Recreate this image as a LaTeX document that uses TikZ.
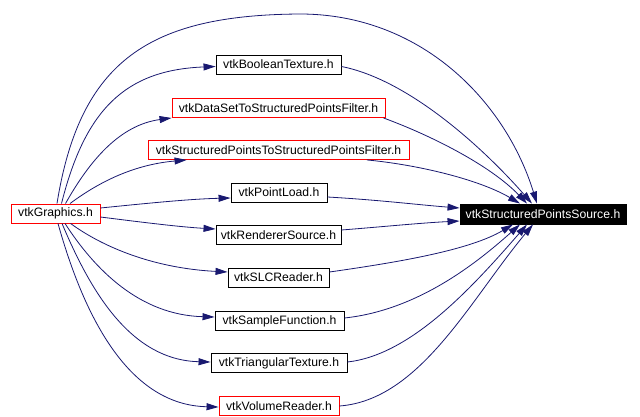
\documentclass[tikz,border=0pt]{standalone}
\usepackage{fontspec}
\setmainfont{Liberation Sans}
\usetikzlibrary{arrows.meta}
\definecolor{edgeblue}{HTML}{191970}
\tikzset{
  box/.style={draw=black, line width=0.9pt, fill=white, minimum height=19pt, inner sep=0pt, font=\fontsize{12.2}{13}\selectfont},
  redbox/.style={box, draw=red},
  srcbox/.style={box, fill=black, text=white, minimum height=20pt},
  dep/.style={draw=edgeblue, line width=0.8pt, -{Triangle[length=12pt,width=7pt]}},
}
\begin{document}
\begin{tikzpicture}[x=1pt,y=-1pt]
\useasboundingbox (0,0) rectangle (640,417);
\node[srcbox, minimum width=166pt] (src) at (543,214) {vtkStructuredPointsSource.h};
\node[redbox, minimum width=89pt] (g) at (55.5,213.5) {vtkGraphics.h};
\node[box, minimum width=125pt] (n1) at (278.5,64.5) {vtkBooleanTexture.h};
\node[redbox, minimum width=213pt] (n2) at (278.5,108) {vtkDataSetToStructuredPointsFilter.h};
\node[redbox, minimum width=261pt] (n3) at (278.5,150) {vtkStructuredPointsToStructuredPointsFilter.h};
\node[box, minimum width=96pt] (n4) at (279,192.5) {vtkPointLoad.h};
\node[box, minimum width=125pt] (n5) at (278.5,235) {vtkRendererSource.h};
\node[box, minimum width=101pt] (n6) at (278.5,277.5) {vtkSLCReader.h};
\node[box, minimum width=129pt] (n7) at (279.5,321) {vtkSampleFunction.h};
\node[box, minimum width=136pt] (n8) at (279,363) {vtkTriangularTexture.h};
\node[redbox, minimum width=120pt] (n9) at (279,406) {vtkVolumeReader.h};
% vtkGraphics -> direct
\draw[dep] ([xshift=1.5pt]g.north) .. controls (80,60) and (150,15) .. (300,14) .. controls (420,14) and (505,100) .. ([xshift=-6pt]src.north);
% vtkGraphics -> middle nodes
\draw[dep] ([xshift=6pt]g.north) .. controls (85,110) and (125,70) .. ([yshift=-2pt]n1.west);
\draw[dep] ([xshift=10pt]g.north) .. controls (90,160) and (120,125) .. (n2.south west);
\draw[dep] ([xshift=14.5pt]g.north) .. controls (95,185) and (130,165) .. ([xshift=39pt]n3.south west);
\draw[dep] ([yshift=5.5pt]g.east) .. controls (150,203) and (190,199) .. ([yshift=-5.5pt]n4.west);
\draw[dep] ([yshift=-3.5pt]g.east) .. controls (140,222) and (180,227) .. ([yshift=6pt]n5.west);
\draw[dep] ([xshift=15pt]g.south) .. controls (100,245) and (150,268) .. ([yshift=5.5pt]n6.west);
\draw[dep] ([xshift=9.5pt]g.south) .. controls (95,270) and (140,315) .. ([yshift=4pt]n7.west);
\draw[dep] ([xshift=6.5pt]g.south) .. controls (90,290) and (130,360) .. ([yshift=1pt]n8.west);
\draw[dep] ([xshift=2.5pt]g.south) .. controls (85,320) and (130,405) .. ([yshift=-1pt]n9.west);
% middle nodes -> source
\draw[dep] ([yshift=-2pt]n1.east) .. controls (410,80) and (485,150) .. ([xshift=-11pt]src.north);
\draw[dep] ([xshift=-2pt]n2.south east) .. controls (430,135) and (490,165) .. ([xshift=-16pt]src.north);
\draw[dep] ([xshift=88.5pt]n3.south) .. controls (420,165) and (480,180) .. ([xshift=-23pt]src.north);
\draw[dep] ([yshift=-4.5pt]n4.east) .. controls (380,200) and (420,205) .. ([yshift=6pt]src.west);
\draw[dep] ([yshift=5pt]n5.east) .. controls (380,227) and (420,223) .. ([yshift=-7pt]src.west);
\draw[dep] ([yshift=5.5pt]n6.east) .. controls (400,262) and (470,250) .. ([xshift=-30pt]src.south);
\draw[dep] ([yshift=3pt]n7.east) .. controls (420,310) and (480,260) .. ([xshift=-23pt]src.south);
\draw[dep] ([yshift=1pt]n8.east) .. controls (410,355) and (470,290) .. ([xshift=-16pt]src.south);
\draw[dep] (n9.east) .. controls (420,400) and (470,300) .. ([xshift=-10pt]src.south);
\end{tikzpicture}
\end{document}
